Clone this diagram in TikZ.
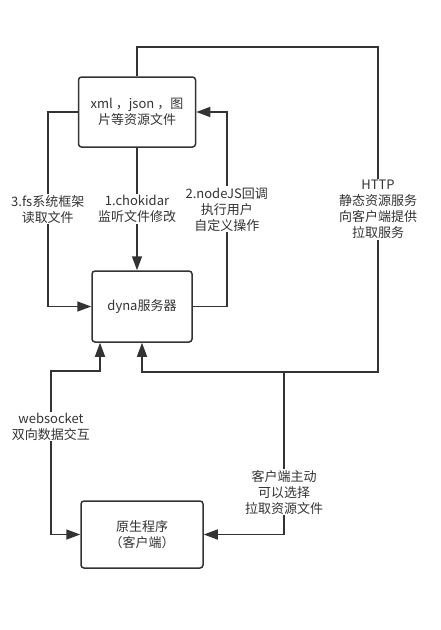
\documentclass[tikz,border=0pt]{standalone}
\usepackage{fontspec}
\setmainfont{Noto Sans CJK SC}
\usetikzlibrary{arrows.meta}
\definecolor{ink}{HTML}{333333}

\begin{document}
\begin{tikzpicture}[x=1pt,y=-1pt,>={Triangle[length=14pt,width=10pt]},
  box/.style={draw=ink,line width=1.5pt,rounded corners=3pt,align=center,text=ink,font=\fontsize{13}{16}\selectfont},
  lbl/.style={fill=white,align=center,text=ink,inner sep=1pt,font=\fontsize{13}{16}\selectfont},
  link/.style={draw=ink,line width=1.5pt}]
\useasboundingbox (0,0) rectangle (441,630);

\node (res) [box,minimum width=117pt,minimum height=70pt] at (137,112) {xml\kern3pt，json\kern3pt，图\\片等资源文件};
\node (dyna) [box,minimum width=100pt,minimum height=71pt] at (142,306.5) {dyna服务器};
\node (native) [box,minimum width=122pt,minimum height=67pt] at (142,534.5) {原生程序\\（客户端）};

\coordinate (top) at (137,47);
\coordinate (far) at (378,372);
\coordinate (tap) at (284,372);
\coordinate (ws) at (51,371);

\draw [link,->] (res.south) -- node [lbl] {1.chokidar\\监听文件修改} (res.south |- dyna.north);
\draw [link,->] (dyna.east) -- ++(34,0) |- node [lbl,pos=0.25] {2.nodeJS回调\\执行用户\\自定义操作} (res.east);
\draw [link,->] (res.west) -- ++(-30,0) |- node [lbl,pos=0.25] {3.fs系统框架\\读取文件} (dyna.west);
\draw [link,->] (res.north) -- (top) -| node [lbl,pos=0.75] {HTTP\\静态资源服务\\向客户端提供\\拉取服务} (far) -| (dyna.south);
\draw [link,<->] (native.west) -| node [lbl,pos=0.83] {websocket\\双向数据交互} (ws) -| ([xshift=-42pt]dyna.south);
\draw [link,->] (tap) |- node [lbl,pos=0.37] {客户端主动\\可以选择\\拉取资源文件} (native.east);
\end{tikzpicture}
\end{document}
